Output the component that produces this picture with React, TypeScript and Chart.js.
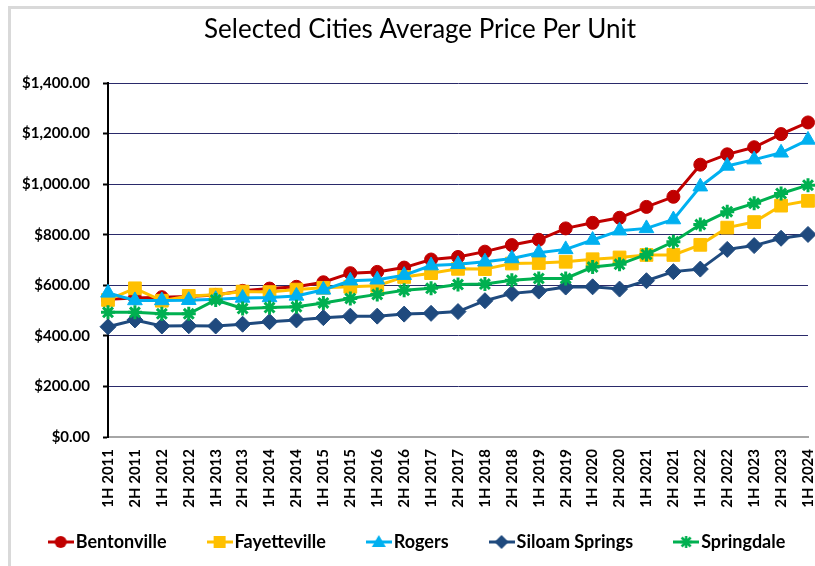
import React, { useEffect, useRef } from 'react';
import { Chart, registerables } from 'chart.js';

Chart.register(...registerables);

const categories = [
  '1H 2011', '2H 2011', '1H 2012', '2H 2012', '1H 2013', '2H 2013', '1H 2014', '2H 2014',
  '1H 2015', '2H 2015', '1H 2016', '2H 2016', '1H 2017', '2H 2017', '1H 2018', '2H 2018',
  '1H 2019', '2H 2019', '1H 2020', '2H 2020', '1H 2021', '2H 2021', '1H 2022', '2H 2022',
  '1H 2023', '2H 2023', '1H 2024',
];

const bentonville = [545, 550, 553, 556, 562, 578, 587, 594, 612, 648, 653, 670, 702, 712, 733, 759, 780, 825, 847, 867, 910, 950, 1077, 1118, 1146, 1198, 1244];
const fayetteville = [542, 588, 539, 558, 563, 575, 573, 583, 590, 594, 598, 633, 648, 665, 664, 686, 688, 693, 703, 710, 720, 720, 760, 828, 850, 915, 934];
const rogers = [570, 540, 540, 541, 545, 550, 552, 558, 582, 618, 622, 640, 678, 683, 693, 706, 729, 742, 779, 816, 825, 860, 990, 1072, 1097, 1124, 1175];
const siloamSprings = [436, 463, 439, 440, 439, 446, 456, 463, 472, 478, 478, 486, 489, 496, 539, 568, 577, 593, 594, 585, 618, 654, 664, 742, 757, 786, 801];
const springdale = [493, 493, 487, 487, 542, 508, 512, 515, 530, 548, 564, 580, 588, 603, 605, 620, 627, 627, 672, 683, 722, 772, 840, 891, 924, 963, 996];

const seriesNames = ['Bentonville', 'Fayetteville', 'Rogers', 'Siloam Springs', 'Springdale'];
const seriesData = [bentonville, fayetteville, rogers, siloamSprings, springdale];
const seriesColors = ['#C00000', '#FFC000', '#00B0F0', '#1F4A7E', '#00B050'];
const seriesStyles = ['circle', 'rect', 'triangle', 'rectRot', 'star'];
const seriesRadius = [6.5, 9, 8.5, 8, 7];

const chartTitle = 'Selected Cities Average Price Per Unit';
const yMin = 0;
const yMax = 1400;
const yStep = 200;

function formatMoney(v: number): string {
  return '$' + v.toFixed(2).replace(/\B(?=(\d{3})+(?!\d))/g, ',');
}

function makeIcon(color: string, shape: string): HTMLCanvasElement {
  const c = document.createElement('canvas');
  c.width = 26;
  c.height = 16;
  const g = c.getContext('2d') as CanvasRenderingContext2D;
  g.strokeStyle = color;
  g.fillStyle = color;
  g.lineWidth = 3;
  g.beginPath();
  g.moveTo(0, 8);
  g.lineTo(26, 8);
  g.stroke();
  const cx = 13, cy = 8;
  g.beginPath();
  if (shape === 'circle') {
    g.arc(cx, cy, 6, 0, Math.PI * 2);
    g.fill();
  } else if (shape === 'rect') {
    g.rect(cx - 6, cy - 6, 12, 12);
    g.fill();
  } else if (shape === 'triangle') {
    g.moveTo(cx, cy - 7);
    g.lineTo(cx + 7, cy + 5);
    g.lineTo(cx - 7, cy + 5);
    g.closePath();
    g.fill();
  } else if (shape === 'rectRot') {
    g.moveTo(cx, cy - 7);
    g.lineTo(cx + 7, cy);
    g.lineTo(cx, cy + 7);
    g.lineTo(cx - 7, cy);
    g.closePath();
    g.fill();
  } else {
    g.lineWidth = 2.5;
    g.moveTo(cx - 6, cy);
    g.lineTo(cx + 6, cy);
    g.moveTo(cx, cy - 6);
    g.lineTo(cx, cy + 6);
    g.moveTo(cx - 4.5, cy - 4.5);
    g.lineTo(cx + 4.5, cy + 4.5);
    g.moveTo(cx + 4.5, cy - 4.5);
    g.lineTo(cx - 4.5, cy + 4.5);
    g.stroke();
  }
  return c;
}

// Moves the legend row up so it sits just below the rotated category labels.
const legendPlacer = {
  id: 'legendPlacer',
  afterLayout(chart: any) {
    const lg = chart.legend;
    if (!lg) return;
    const top = chart.chartArea.bottom + 49;
    const h = lg.height;
    lg.top = top;
    lg.bottom = top + h;
  },
};

export default function App() {
  const canvasRef = useRef<HTMLCanvasElement | null>(null);

  useEffect(() => {
    const canvas = canvasRef.current;
    if (!canvas) return;
    const icons = seriesNames.map((_, i) => makeIcon(seriesColors[i], seriesStyles[i]));
    const datasets = seriesNames.map((name, i) => ({
      label: name,
      data: seriesData[i],
      borderColor: seriesColors[i],
      backgroundColor: seriesColors[i],
      pointBackgroundColor: seriesColors[i],
      pointBorderColor: seriesColors[i],
      pointStyle: seriesStyles[i] as any,
      pointRadius: seriesRadius[i],
      pointBorderWidth: seriesStyles[i] === 'star' ? 3 : 1,
      borderWidth: 3,
      tension: 0,
      fill: false,
      order: seriesNames.length - i,
      yAxisID: 'y',
    }));

    const chart = new Chart(canvas, {
      type: 'line',
      data: { labels: categories, datasets },
      plugins: [legendPlacer],
      options: {
        animation: false,
        responsive: false,
        devicePixelRatio: 1,
        layout: { padding: { top: 0, left: 0, right: 0, bottom: 0 } },
        plugins: {
          tooltip: { enabled: false },
          title: {
            display: true,
            text: chartTitle,
            color: '#000',
            font: { family: 'Lato', size: 26, weight: 'normal' },
            padding: { top: 5.4, bottom: 37.4 },
          },
          legend: {
            display: true,
            position: 'bottom',
            labels: {
              usePointStyle: true,
              pointStyleWidth: 12,
              padding: 47,
              color: '#000',
              font: { family: 'Lato', size: 18, weight: 'bold' },
              generateLabels: () =>
                seriesNames.map((name, i) => ({
                  text: name,
                  pointStyle: icons[i] as any,
                  fillStyle: seriesColors[i],
                  strokeStyle: seriesColors[i],
                  fontColor: '#000',
                  lineWidth: 0,
                  hidden: false,
                  datasetIndex: i,
                })),
            },
          },
        },
        scales: {
          x: {
            type: 'category',
            offset: false,
            grid: { display: false, drawTicks: false },
            border: { display: true, color: '#a6a6a6', width: 2 },
            ticks: {
              autoSkip: false,
              minRotation: 90,
              maxRotation: 90,
              padding: 12,
              color: '#000',
              font: { family: 'Lato', size: 15, weight: 'bold' },
            },
            afterFit: (s: any) => { s.height = 92; },
          },
          y: {
            type: 'linear',
            position: 'left',
            min: yMin,
            max: yMax,
            grid: {
              color: (ctx: any) => (ctx.tick && ctx.tick.value === 0 ? 'rgba(0,0,0,0)' : '#2a2a6a'),
              lineWidth: 1,
              tickColor: '#000',
              tickLength: 5,
              tickWidth: 2,
              drawTicks: true,
            },
            border: { display: true, color: '#000', width: 2 },
            ticks: {
              stepSize: yStep,
              padding: 13,
              color: '#000',
              font: { family: 'Lato', size: 15, weight: 'bold' },
              callback: (v: any) => formatMoney(Number(v)),
            },
            afterFit: (s: any) => { s.width = 118; },
          },
          y2: {
            type: 'linear',
            position: 'right',
            display: true,
            grid: { display: false, drawTicks: false },
            border: { display: false },
            ticks: { display: false },
            afterFit: (s: any) => { s.width = 42; },
          },
        },
      },
    });
    return () => chart.destroy();
  }, []);

  return (
    <div style={{ position: 'fixed', left: 0, top: 0, width: 815, height: 566, overflow: 'hidden', background: '#fff' }}>
      <div
        style={{
          position: 'absolute',
          left: 8,
          top: 6,
          width: 900,
          height: 700,
          borderLeft: '3px solid #d9d9d9',
          borderTop: '3px solid #d9d9d9',
        }}
      >
        <div style={{ position: 'absolute', left: -21, top: 0, width: 860, height: 595 }}>
          <canvas ref={canvasRef} width={860} height={595} style={{ display: 'block' }} />
        </div>
      </div>
    </div>
  );
}
